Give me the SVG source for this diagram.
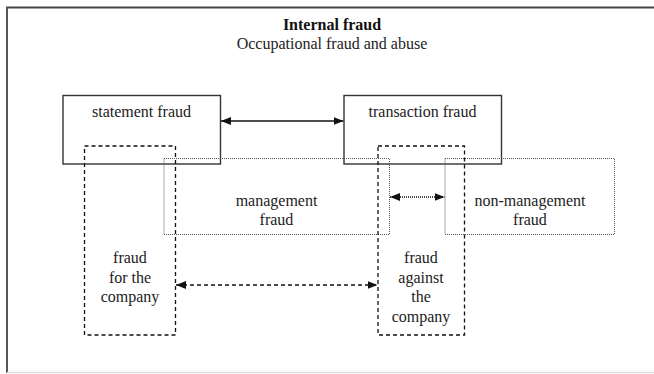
<svg xmlns="http://www.w3.org/2000/svg" width="654" height="374" viewBox="0 0 654 374">
<defs>
<style>
text{font-family:"Liberation Serif","Times New Roman",serif;font-size:16px;fill:#222;text-anchor:middle}
.title{font-weight:bold;fill:#111}
.solid{fill:none;stroke:#333;stroke-width:1.4}
.dashed{fill:none;stroke:#111;stroke-width:1.3;stroke-dasharray:4 3}
.dotted{fill:none;stroke:#555;stroke-width:1;stroke-dasharray:1 1}
.conn{fill:none;stroke:#111;stroke-width:1.3}
</style>
<marker id="ah" viewBox="0 0 10 8" refX="10" refY="4" markerWidth="10" markerHeight="8" markerUnits="userSpaceOnUse" orient="auto-start-reverse">
<path d="M0,0 L10,4 L0,8 Z" fill="#111"/>
</marker>
</defs>
<rect x="0" y="0" width="654" height="374" fill="#fff"/>
<g id="frame">
<line x1="6" y1="7.5" x2="654" y2="7.5" stroke="#444" stroke-width="2"/>
<line x1="7" y1="7" x2="7" y2="373" stroke="#555" stroke-width="2"/>
<line x1="7" y1="372.5" x2="654" y2="372.5" stroke="#ddd" stroke-width="1.5"/>
</g>
<g id="title">
<text class="title" x="332" y="30">Internal fraud</text>
<text x="332" y="49">Occupational fraud and abuse</text>
</g>
<g id="connectors">
<line class="conn" x1="221" y1="121" x2="343.5" y2="121" marker-start="url(#ah)" marker-end="url(#ah)"/>
<line class="conn" x1="390" y1="197" x2="444.5" y2="197" stroke-dasharray="1 1" stroke-width="1.1" marker-start="url(#ah)" marker-end="url(#ah)"/>
<line class="conn" x1="176" y1="285" x2="377.5" y2="285" stroke-dasharray="4 3" marker-start="url(#ah)" marker-end="url(#ah)"/>
</g>
<g id="statement-fraud">
<rect class="solid" x="63" y="95.5" width="157.5" height="68.5"/>
<text x="141.5" y="117">statement fraud</text>
</g>
<g id="transaction-fraud">
<rect class="solid" x="344" y="95.5" width="157.5" height="68.5"/>
<text x="422.5" y="117">transaction fraud</text>
</g>
<g id="management-fraud">
<rect class="dotted" x="164" y="158.5" width="225.5" height="76"/>
<text x="276.5" y="205.5">management</text>
<text x="276.5" y="224.5">fraud</text>
</g>
<g id="non-management-fraud">
<rect class="dotted" x="445" y="158.5" width="169.5" height="76"/>
<text x="530" y="205.5">non-management</text>
<text x="530" y="224.5">fraud</text>
</g>
<g id="fraud-for-company">
<rect class="dashed" x="84.5" y="146" width="91" height="189"/>
<text x="130" y="263">fraud</text>
<text x="130" y="282.5">for the</text>
<text x="130" y="302">company</text>
</g>
<g id="fraud-against-company">
<rect class="dashed" x="378" y="146" width="86.5" height="189"/>
<text x="421" y="263">fraud</text>
<text x="421" y="282.5">against</text>
<text x="421" y="302">the</text>
<text x="421" y="321.5">company</text>
</g>
</svg>
